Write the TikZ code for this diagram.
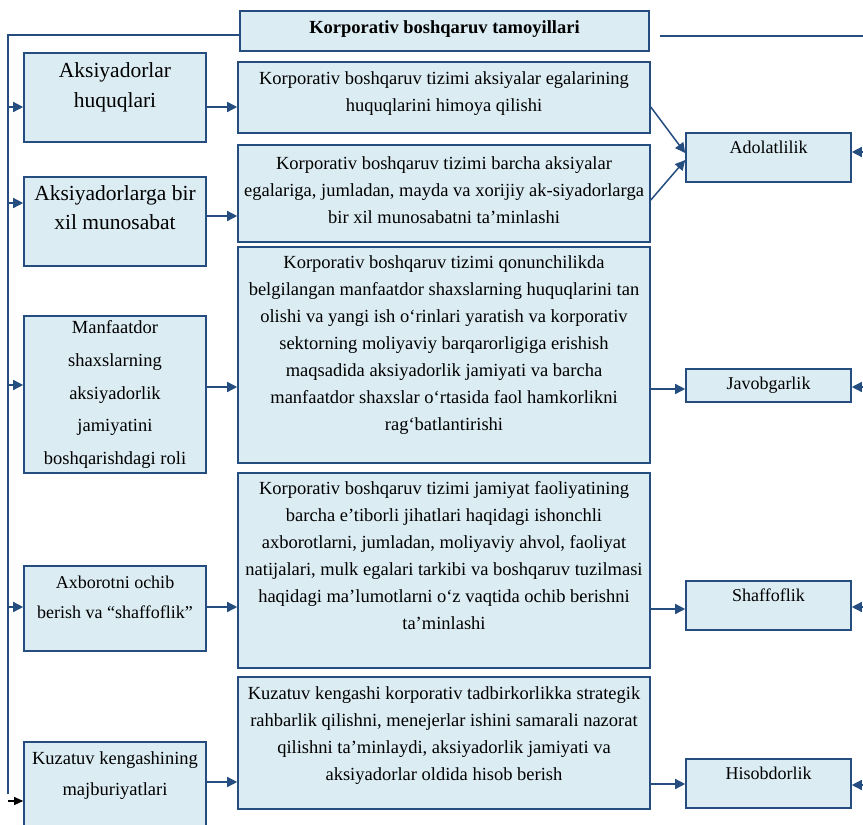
\documentclass[tikz,border=0pt]{standalone}
\usepackage{fontspec}
\setmainfont{Liberation Serif}
\usetikzlibrary{arrows.meta}

\definecolor{frameblue}{RGB}{38,77,128}
\definecolor{cellblue}{RGB}{219,236,243}
% extra depth under the last line, lifts the text inside a box
\newcommand{\padbelow}[1]{\rule[-#1]{0pt}{#1}}

\begin{document}
\begin{tikzpicture}[x=1pt, y=-1pt,
          box/.style={draw=frameblue, fill=cellblue, line width=1.6pt, align=center, inner sep=3pt},
          header/.style={box, minimum width=409pt, minimum height=40pt, font=\fontsize{18.5}{22}\selectfont\bfseries},
          leftbox/.style={box, minimum width=182pt},
          midbox/.style={box, minimum width=412pt, font=\fontsize{18.5}{27}\selectfont},
          sidebox/.style={box, minimum width=165pt, minimum height=49pt, font=\fontsize{18}{22}\selectfont},
          bus/.style={draw=frameblue, line width=1.5pt},
          arr/.style={draw=frameblue, line width=1.5pt, -{Triangle[length=10pt,width=10pt]}}
        ]
        \useasboundingbox (0,0) rectangle (863,825);

        % Header
        \node[header] (hdr) at (444.5,31) {Korporativ boshqaruv tamoyillari\padbelow{8pt}};

        % Left column
        \node[leftbox, minimum height=89pt, font=\fontsize{21.5}{29.5}\selectfont] (l1) at (115,97.5) {Aksiyadorlar\\huquqlari\padbelow{25pt}};
        \node[leftbox, minimum height=89pt, font=\fontsize{21.5}{29.5}\selectfont] (l2) at (115,221.5) {Aksiyadorlarga bir\\xil munosabat\padbelow{28pt}};
        \node[leftbox, minimum height=157pt, font=\fontsize{18.5}{32.75}\selectfont] (l3) at (115,394.5) {Manfaatdor\\shaxslarning\\aksiyadorlik\\jamiyatini\\boshqarishdagi roli};
        \node[leftbox, minimum height=85pt, font=\fontsize{18}{30}\selectfont] (l4) at (115,608.5) {Axborotni ochib\\berish va “shaffoflik”\padbelow{22pt}};
        \node[leftbox, minimum height=88pt, font=\fontsize{18.5}{31}\selectfont] (l5) at (115,786) {Kuzatuv kengashining\\majburiyatlari\padbelow{25pt}};

        % Middle column
        \node[midbox, minimum height=71pt] (m1) at (444,97.5) {Korporativ boshqaruv tizimi aksiyalar egalarining\\huquqlarini himoya qilishi\padbelow{12pt}};
        \node[midbox, minimum height=97pt] (m2) at (444,193.5) {Korporativ boshqaruv tizimi barcha aksiyalar\\egalariga, jumladan, mayda va xorijiy ak-siyadorlarga\\bir xil munosabatni ta’minlashi\padbelow{6pt}};
        \node[midbox, minimum height=216pt] (m3) at (444,355) {Korporativ boshqaruv tizimi qonunchilikda\\belgilangan manfaatdor shaxslarning huquqlarini tan\\olishi va yangi ish o‘rinlari yaratish va korporativ\\sektorning moliyaviy barqarorligiga erishish\\maqsadida aksiyadorlik jamiyati va barcha\\manfaatdor shaxslar o‘rtasida faol hamkorlikni\\rag‘batlantirishi\padbelow{24pt}};
        \node[midbox, minimum height=195pt] (m4) at (444,570.5) {Korporativ boshqaruv tizimi jamiyat faoliyatining\\barcha e’tiborli jihatlari haqidagi ishonchli\\axborotlarni, jumladan, moliyaviy ahvol, faoliyat\\natijalari, mulk egalari tarkibi va boshqaruv tuzilmasi\\haqidagi ma’lumotlarni o‘z vaqtida ochib berishni\\ta’minlashi\padbelow{30pt}};
        \node[midbox, minimum height=132pt] (m5) at (444,743) {Kuzatuv kengashi korporativ tadbirkorlikka strategik\\rahbarlik qilishni, menejerlar ishini samarali nazorat\\qilishni ta’minlaydi, aksiyadorlik jamiyati va\\aksiyadorlar oldida hisob berish\padbelow{18pt}};

        % Right column
        \node[sidebox] (r1) at (768.5,157.5) {Adolatlilik\padbelow{20pt}};
        \node[sidebox, minimum height=33pt] (r2) at (768.5,385.5) {Javobgarlik};
        \node[sidebox] (r3) at (768.5,605.5) {Shaffoflik\padbelow{20pt}};
        \node[sidebox] (r4) at (768.5,783.5) {Hisobdorlik\padbelow{20pt}};

        % Buses
        \coordinate (bt) at (8,35);
        \coordinate (bb) at (8,794);
        \coordinate (bk) at (8,801);
        \coordinate (rs) at (660,36);
        \coordinate (rb) at (863,36);
        \draw[bus] (hdr.west |- bt) -- (bt) -- (bb);
        \draw[bus] (rs) -- (rb);

        % Arrows
        \foreach \i/\y in {1/107,2/203,3/385,4/607}
          \draw[arr] (bt |- 0,\y) -- (l\i.west |- 0,\y);
        \draw[line width=1.2pt, -{Triangle[length=9pt,width=8pt]}] (bk) -- (bk -| l5.west);
        \foreach \i/\y in {1/107,2/216,3/387,4/607,5/782}
          \draw[arr] (l\i.east |- 0,\y) -- (m\i.west |- 0,\y);
        \draw[arr] (m1.east |- 0,107) -- (r1.west |- 0,153);
        \draw[arr] (m2.east |- 0,200) -- (r1.west |- 0,160);
        \draw[arr] (m3.east |- 0,389) -- (r2.west |- 0,389);
        \draw[arr] (m4.east |- 0,609) -- (r3.west |- 0,609);
        \draw[arr] (m5.east |- 0,784) -- (r4.west |- 0,784);
        \foreach \i/\y in {1/152,2/387,3/607,4/785}
          \draw[arr] (rb |- 0,\y) -- (r\i.east |- 0,\y);

      \end{tikzpicture}
\end{document}
